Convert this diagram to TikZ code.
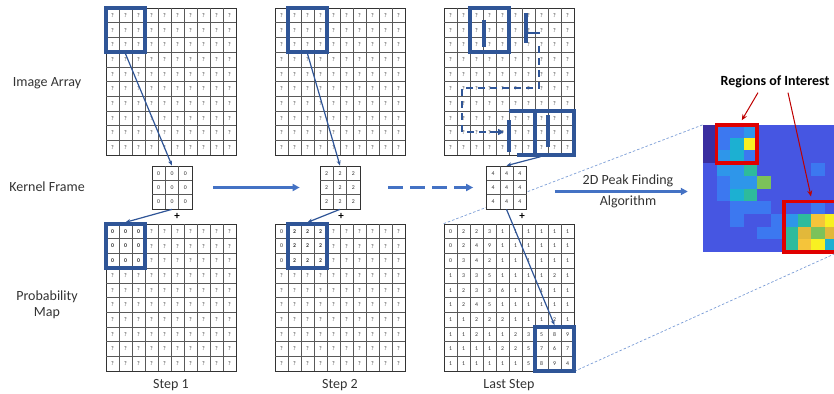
\documentclass[tikz,border=0pt]{standalone}
\usepackage{fontspec}
\setmainfont{Carlito}
\usetikzlibrary{arrows.meta}
\definecolor{boxblue}{HTML}{2F5597}
\definecolor{arrblue}{HTML}{4472C4}
\definecolor{lnkblue}{HTML}{7A9CD6}
\definecolor{roired}{HTML}{E00000}
\definecolor{hm0}{HTML}{3A2EA0}
\definecolor{hm1}{HTML}{4656E2}
\definecolor{hm2}{HTML}{3C78F0}
\definecolor{hm3}{HTML}{2E96EA}
\definecolor{hm4}{HTML}{1CB0D2}
\definecolor{hm5}{HTML}{2EBB9C}
\definecolor{hm6}{HTML}{7CC25A}
\definecolor{hm7}{HTML}{E2B83A}
\definecolor{hm8}{HTML}{F5C43A}
\definecolor{hm9}{HTML}{F8F022}
\newcommand\mygrid[3]{%
  \node[gridframe] (#3) at (#1+65,#2+73.5) {};
  \foreach \i in {1,...,9}{
    \draw[gl] (#1+\i*13,#2) -- (#1+\i*13,#2+147);
    \draw[gl] (#1,#2+\i*14.7) -- (#1+130,#2+\i*14.7);
  }}
\newcommand\mycells[4]{%
  \foreach \row [count=\r] in {#4}{
    \foreach \v [count=\c] in \row {
      \node[gcell] (#3-\r-\c) at (#1+\c*13-6.5,#2+\r*14.7-7.35) {\v};
    }}}
\newcommand\myqcells[3]{%
  \foreach \r in {1,...,10}{
    \foreach \c in {1,...,10}{
      \node[gcell] (#3-\r-\c) at (#1+\c*13-6.5,#2+\r*14.7-7.35) {?};
    }}}
\newcommand\mykernel[4]{%
  \node[kern] (#3) at (#1,#2) {};
  \foreach \i in {1,2}{
    \draw[gl] (#1-20+\i*13.333,#2-21.5) -- ++(0,43);
    \draw[gl] (#1-20,#2-21.5+\i*14.333) -- ++(40,0);
  }
  \foreach \r in {1,2,3}{
    \foreach \c in {1,2,3}{
      \node[gcell] (#3-\r-\c) at (#1-20+\c*13.333-6.667,#2-21.5+\r*14.333-7.167) {#4};
    }}}
\begin{document}
\begin{tikzpicture}[x=1pt,y=-1pt,
  gcell/.style={inner sep=0pt, font=\fontsize{5.8}{6}\selectfont, text=black!80},
  gridframe/.style={draw=black!80, line width=0.7pt, minimum width=130pt, minimum height=147pt, inner sep=0pt},
  gl/.style={draw=black!65, line width=0.5pt},
  kern/.style={draw=black!80, fill=white, line width=0.7pt, minimum width=40pt, minimum height=43pt, inner sep=0pt},
  bbox/.style={draw=boxblue, line width=3.4pt, minimum width=39pt, minimum height=44.1pt, inner sep=0pt},
  conn/.style={draw=boxblue, line width=1.2pt, -{Stealth[length=5pt,width=4pt]}},
  steparrow/.style={draw=arrblue, line width=2.2pt, -{Triangle[length=7pt,width=7pt]}},
  lbl/.style={font=\fontsize{14}{16}\selectfont, text=black!80, align=center},
  ghost/.style={draw=boxblue, line width=3.4pt},
  ghostdash/.style={draw=boxblue, line width=2.4pt, dash pattern=on 7pt off 5pt},
  lnk/.style={draw=lnkblue, line width=0.7pt, dash pattern=on 2.5pt off 2pt},
  redbox/.style={draw=roired, line width=3.4pt, inner sep=0pt},
  redarrow/.style={draw=roired!85!black, line width=1pt, -{Stealth[length=6pt,width=5pt]}},
  plus/.style={font=\fontsize{11}{12}\selectfont\bfseries, inner sep=0pt}
]
\useasboundingbox (0,0) rectangle (834,393);
% left labels
\node[lbl] (lia) at (47,83) {Image Array};
\node[lbl] (lkf) at (47,187) {Kernel Frame};
\node[lbl] (lpm) at (47,305) {Probability\\Map};
% image arrays
\mygrid{106}{8}{ia1}\myqcells{106}{8}{ia1c}
\mygrid{275}{8}{ia2}\myqcells{275}{8}{ia2c}
\mygrid{444}{8}{ia3}\myqcells{444}{8}{ia3c}
% probability maps
\mygrid{106}{224}{pm1}
\mycells{106}{224}{pm1c}{{\textbf{0},\textbf{0},\textbf{0},?,?,?,?,?,?,?},{\textbf{0},\textbf{0},\textbf{0},?,?,?,?,?,?,?},{\textbf{0},\textbf{0},\textbf{0},?,?,?,?,?,?,?},{?,?,?,?,?,?,?,?,?,?},{?,?,?,?,?,?,?,?,?,?},{?,?,?,?,?,?,?,?,?,?},{?,?,?,?,?,?,?,?,?,?},{?,?,?,?,?,?,?,?,?,?},{?,?,?,?,?,?,?,?,?,?},{?,?,?,?,?,?,?,?,?,?}}
\mygrid{275}{224}{pm2}
\mycells{275}{224}{pm2c}{{0,\textbf{2},\textbf{2},\textbf{2},?,?,?,?,?,?},{0,\textbf{2},\textbf{2},\textbf{2},?,?,?,?,?,?},{0,\textbf{2},\textbf{2},\textbf{2},?,?,?,?,?,?},{?,?,?,?,?,?,?,?,?,?},{?,?,?,?,?,?,?,?,?,?},{?,?,?,?,?,?,?,?,?,?},{?,?,?,?,?,?,?,?,?,?},{?,?,?,?,?,?,?,?,?,?},{?,?,?,?,?,?,?,?,?,?},{?,?,?,?,?,?,?,?,?,?}}
\mygrid{444}{224}{pm3}
\mycells{444}{224}{pm3c}{{0,2,2,3,1,1,1,1,1,1},{0,2,4,9,1,1,1,1,1,1},{0,3,4,2,1,1,1,1,1,1},{1,3,3,5,1,1,1,1,2,1},{1,2,3,3,6,1,1,1,1,1},{1,2,4,5,1,1,1,1,1,1},{1,1,2,2,2,1,1,1,2,1},{1,1,2,1,1,2,3,5,8,9},{1,1,1,1,2,2,5,7,6,7},{1,1,1,1,1,1,5,8,9,4}}
% heatmap
\begin{scope}
\clip (0,0) rectangle (834,393);
\foreach \row [count=\r] in {{0,2,2,3,1,1,1,1,1,1},{0,2,4,9,1,1,1,1,1,1},{0,3,4,2,1,1,1,1,1,1},{1,3,3,5,1,1,1,1,2,1},{1,2,3,3,6,1,1,1,1,1},{1,2,4,5,1,1,1,1,1,1},{1,1,2,2,2,1,1,1,2,1},{1,1,2,1,1,2,3,5,8,9},{1,1,1,1,2,2,5,7,6,7},{1,1,1,1,1,1,5,8,9,4}}{
  \foreach \v [count=\c] in \row {
    \fill[hm\v] (703+\c*13.5-13.5,125+\r*12.7-12.7) rectangle ++(13.6,12.8);
  }}
\node[inner sep=0pt, minimum width=135pt, minimum height=127pt] (hm) at (770.5,188.5) {};
\node[redbox, minimum width=40.5pt, minimum height=38.1pt] (roi1) at (736.75,144.05) {};
\node[redbox, minimum width=54pt, minimum height=50.8pt] (roi2) at (811,226.6) {};
% dashed links
\draw[lnk] (pm3.north west) -- (hm.north west);
\draw[lnk] (pm3.south east) -- (hm.south east);
\end{scope}
\node[font=\fontsize{14}{16}\selectfont\bfseries] (roi) at (775,82) {Regions of Interest};
\draw[redarrow] ([xshift=-17pt,yshift=-1pt]roi.south) -- ([xshift=5pt,yshift=3pt]roi1.north);
\draw[redarrow] ([xshift=13pt,yshift=-1pt]roi.south) -- ([yshift=3pt]roi2.north);
% kernels
\mykernel{172}{187.5}{k1}{0}
\mykernel{340}{187.5}{k2}{2}
\mykernel{506.5}{187.5}{k3}{4}
% blue boxes
\node[bbox] (ib1) at (125.5,30.05) {};
\node[bbox] (pb1) at (125.5,246.05) {};
\node[bbox] (ib2) at (307.5,30.05) {};
\node[bbox] (pb2) at (307.5,246.05) {};
\node[bbox] (ib3) at (489.5,30.05) {};
\node[bbox] (ib3f) at (554.5,132.95) {};
\node[bbox] (pb3) at (554.5,348.95) {};
% ghost motion marks (last step)
\draw[ghost] (484,20) -- (484,47);
\draw[ghost] (526,13) -- (526,43);
\draw[boxblue, line width=2.4pt] (526,33) -- (540,33);
\draw[ghostdash] (539,46) -- (539,88) -- (462,88) -- (462,132) -- (497,132);
\draw[boxblue, line width=2.4pt, -{Triangle[length=6pt,width=6pt]}] (490,132) -- (504,132);
\draw[ghost] (509,120) -- (509,152);
\draw[ghost] (548,115) -- (548,147);
\draw[ghost] (509,110.9) -- (535,110.9);
\draw[ghost] (517,155) -- (535,155);
% connectors
\draw[conn] (ib1.south) -- (k1.north);
\draw[conn] (k1.south) -- (pb1.north);
\draw[conn] (ib2.south) -- (k2.north);
\draw[conn] (k2.south) -- (pb2.north);
\draw[conn] ([xshift=-14pt]ib3f.south) -- (k3.north);
\draw[conn] (k3.south) -- (pb3.north);
% plus signs
\node[plus] (p1) at (177,216) {+};
\node[plus] (p2) at (341,216) {+};
\node[plus] (p3) at (522,216) {+};
% step arrows
\draw[steparrow, shorten <=21pt, shorten >=20pt] (k1.east) -- (k2.west);
\draw[steparrow, dash pattern=on 15pt off 7pt, shorten <=28pt, shorten >=13pt] (k2.east) -- (k3.west);
\draw[steparrow, shorten <=28pt, shorten >=15pt] ([yshift=-4pt]k3.east) -- ([yshift=-4pt]k3.east -| hm.west);
\node[lbl] (pf1) at (628,181) {2D Peak Finding};
\node[lbl] (pf2) at (628,202) {Algorithm};
% step labels
\node[lbl] (s1) at (171,385) {Step 1};
\node[lbl] (s2) at (340,385) {Step 2};
\node[lbl] (s3) at (509,385) {Last Step};
\end{tikzpicture}
\end{document}
